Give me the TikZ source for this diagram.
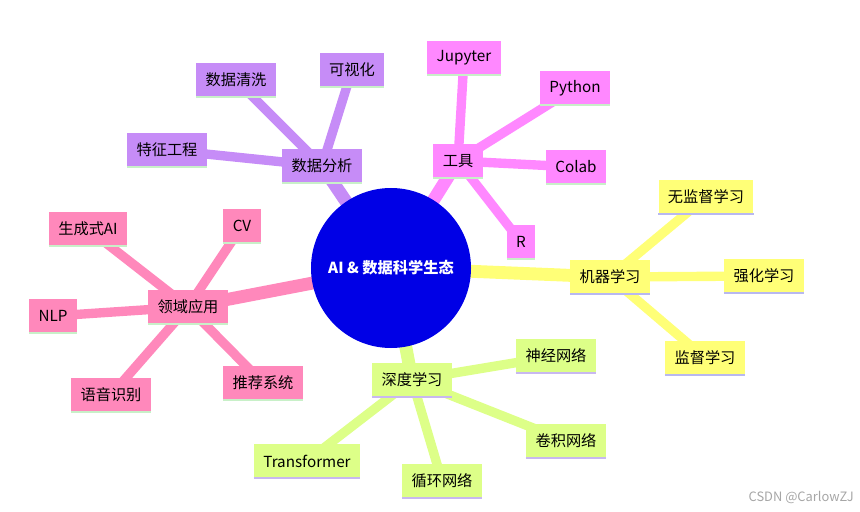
\documentclass[tikz,border=0pt]{standalone}
\usepackage{fontspec}
\setmainfont{Noto Sans CJK SC}
\usetikzlibrary{backgrounds}
\definecolor{hubblue}{HTML}{0000E6}
\definecolor{anapurple}{HTML}{C68CF7}
\definecolor{toolpink}{HTML}{FF88FF}
\definecolor{mlyellow}{HTML}{FFFF77}
\definecolor{dlgreen}{HTML}{DDFF88}
\definecolor{apppink}{HTML}{FF88BB}
\definecolor{rimgreen}{HTML}{C8F0C8}
\definecolor{rimblue}{HTML}{B8B8F0}
\definecolor{rimpurple}{HTML}{C8B8F0}
\tikzset{
  topic/.style 2 args={fill=#1, inner xsep=8pt, minimum height=1.02cm,
    font=\fontsize{13}{15}\selectfont,
    append after command={(\tikzlastnode.south west) edge[draw=#2, line width=1.6pt]
      (\tikzlastnode.south east)}},
  branch/.style={line width=11pt, draw=#1},
  twig/.style={line width=8pt, draw=#1}
}
\begin{document}
\begin{tikzpicture}[x=0.03cm, y=-0.03cm]
    \useasboundingbox (0,0) rectangle (860,512);
    \node[circle, fill=hubblue, minimum size=4.8cm, text=white,
      font=\bfseries\fontsize{13}{15}\selectfont] (hub) at (391,268) {AI \& 数据科学生态};
    % branches
    \node[topic={anapurple}{rimgreen}] (ana) at (322,166) {数据分析};
    \node[topic={toolpink}{rimgreen}] (tool) at (458,161) {工具};
    \node[topic={mlyellow}{rimblue}] (ml) at (610,277) {机器学习};
    \node[topic={dlgreen}{rimpurple}] (dl) at (412,380) {深度学习};
    \node[topic={apppink}{rimgreen}] (app) at (188,307) {领域应用};
    % leaves
    \foreach \nm/\x/\y/\txt in {clean/236/80/数据清洗, vis/352/70/可视化, feat/167/150/特征工程}
      \node[topic={anapurple}{rimgreen}] (\nm) at (\x,\y) {\txt};
    \foreach \nm/\x/\y/\txt in {jup/464/58/Jupyter, py/575/88/Python, colab/576/167/Colab, r/521/242/R}
      \node[topic={toolpink}{rimgreen}] (\nm) at (\x,\y) {\txt};
    \foreach \nm/\x/\y/\txt in {unsup/706/197/无监督学习, rl/764/276/强化学习, sup/705/358/监督学习}
      \node[topic={mlyellow}{rimblue}] (\nm) at (\x,\y) {\txt};
    \foreach \nm/\x/\y/\txt in {nn/556/356/神经网络, cnn/566/441/卷积网络, rnn/442/481/循环网络, tf/307/461/Transformer}
      \node[topic={dlgreen}{rimpurple}] (\nm) at (\x,\y) {\txt};
    \foreach \nm/\x/\y/\txt in {gen/88/229/生成式AI, cv/242/226/CV, nlp/53/316/NLP, asr/111/395/语音识别, rec/263/383/推荐系统}
      \node[topic={apppink}{rimgreen}] (\nm) at (\x,\y) {\txt};
    \node[text=gray!70, font=\fontsize{11}{13}\selectfont, anchor=east] (mark) at (858,497) {CSDN @CarlowZJ};
    \begin{pgfonlayer}{background}
    \draw[branch=anapurple] (hub.center) -- (ana.center);
    \draw[branch=toolpink] (hub.center) -- (tool.center);
    \draw[branch=mlyellow] (hub.center) -- (ml.center);
    \draw[branch=dlgreen] (hub.center) -- (dl.center);
    \draw[branch=apppink] (hub.center) -- (app.center);
    \foreach \nm in {clean,vis,feat} \draw[twig=anapurple] (ana.center) -- (\nm.center);
    \foreach \nm in {jup,py,colab,r} \draw[twig=toolpink] (tool.center) -- (\nm.center);
    \foreach \nm in {unsup,rl,sup} \draw[twig=mlyellow] (ml.center) -- (\nm.center);
    \foreach \nm in {nn,cnn,rnn,tf} \draw[twig=dlgreen] (dl.center) -- (\nm.center);
    \foreach \nm in {gen,cv,nlp,asr,rec} \draw[twig=apppink] (app.center) -- (\nm.center);
    \end{pgfonlayer}
\end{tikzpicture}
\end{document}
